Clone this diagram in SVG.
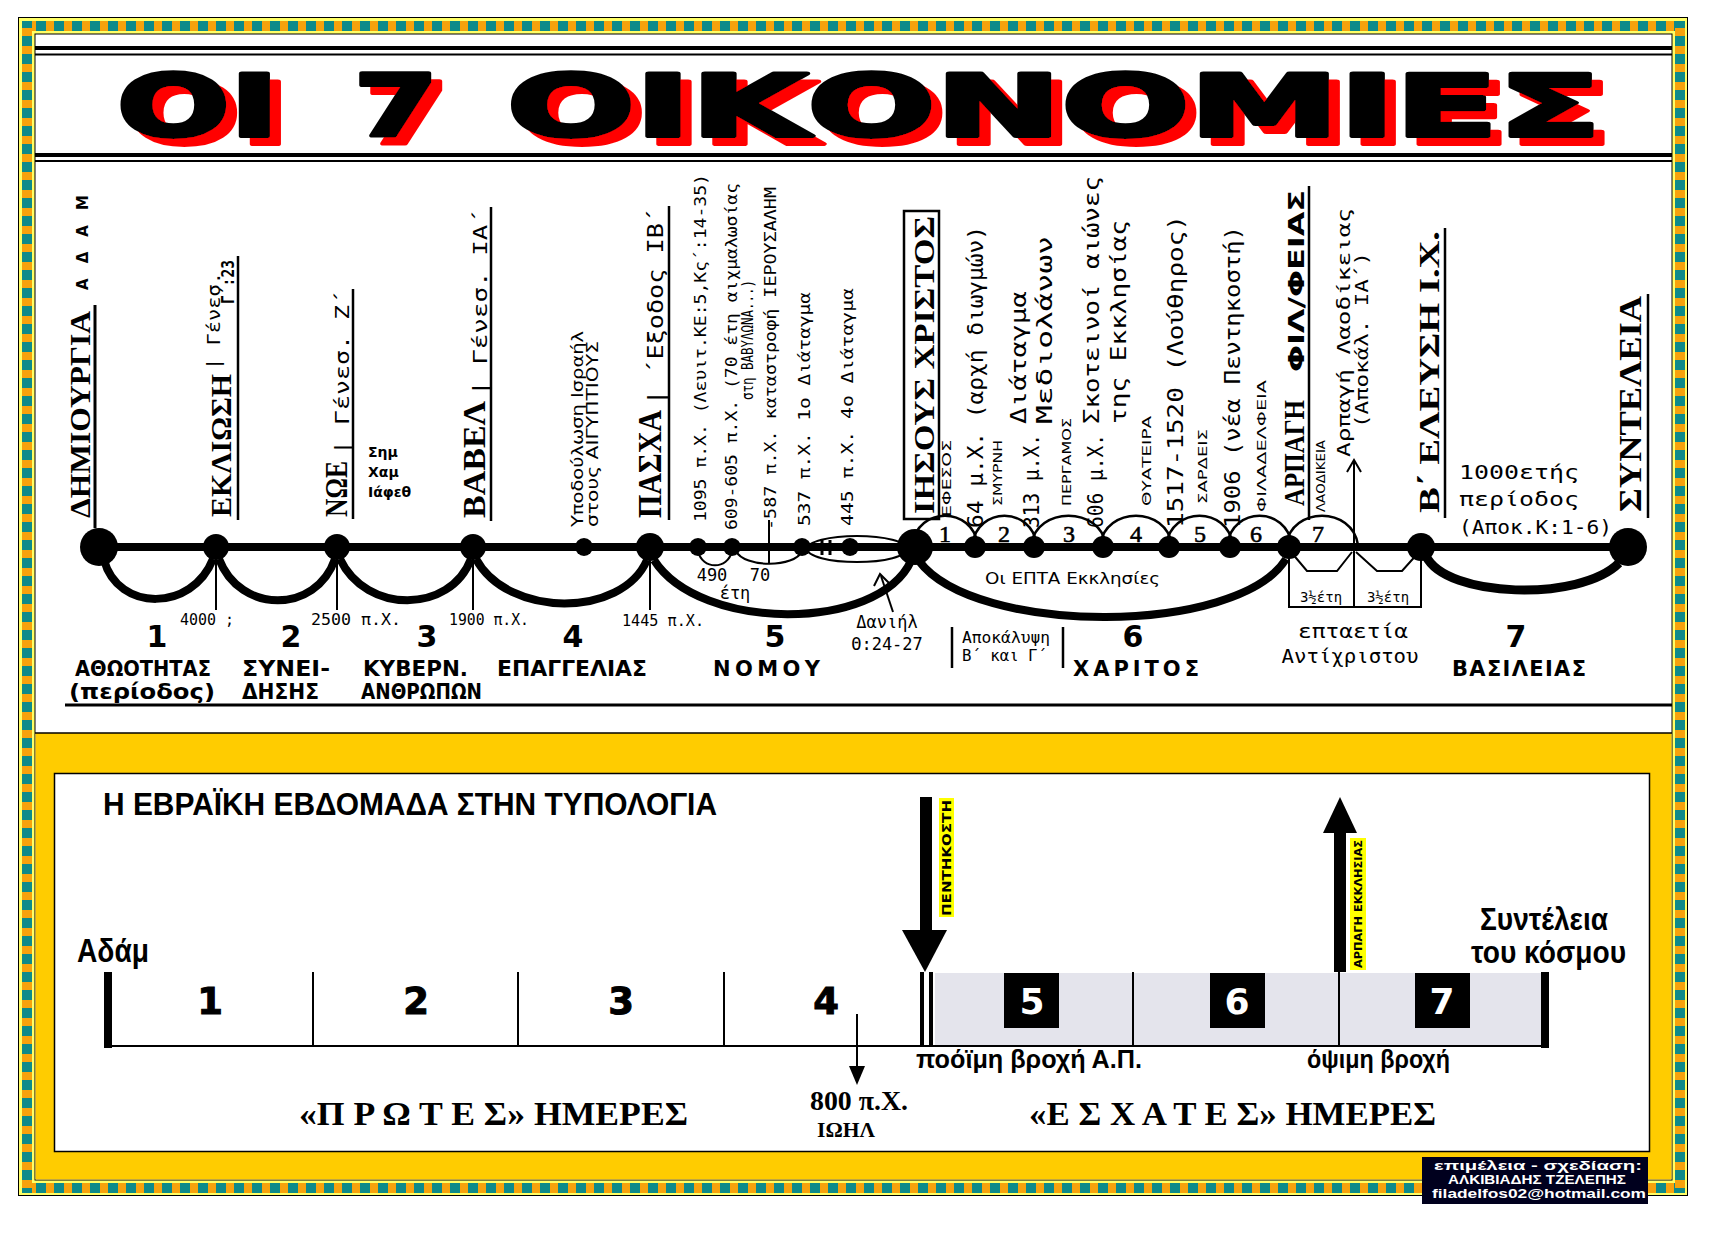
<svg xmlns="http://www.w3.org/2000/svg" width="1725" height="1233" viewBox="0 0 1725 1233">
<defs>
<pattern id="hp" x="0" y="0" width="18" height="20" patternUnits="userSpaceOnUse"><rect width="18" height="20" fill="#f7a20c"/><rect width="10" height="20" fill="#0d8a8a"/></pattern>
<pattern id="vp" x="0" y="0" width="20" height="18" patternUnits="userSpaceOnUse"><rect width="20" height="18" fill="#f7a20c"/><rect width="20" height="10" fill="#0d8a8a"/></pattern>
<filter id="sh" x="-5%" y="-10%" width="115%" height="135%">
<feOffset in="SourceAlpha" dx="11" dy="8" result="o"/>
<feFlood flood-color="#ff0000"/>
<feComposite in2="o" operator="in" result="r"/>
<feMerge><feMergeNode in="r"/><feMergeNode in="SourceGraphic"/></feMerge>
</filter>
</defs>
<style>
.ser{font-family:"Liberation Serif","Times New Roman",serif;font-weight:bold}
.mono{font-family:"DejaVu Sans Mono",monospace}
.sans{font-family:"DejaVu Sans",sans-serif}
.sb{font-family:"DejaVu Sans",sans-serif;font-weight:bold}
.lab{font-family:"DejaVu Sans",sans-serif;font-weight:bold;font-size:21px}
.nar{font-family:"Liberation Sans",Arial,sans-serif;font-weight:bold}
.tt{font-family:"DejaVu Sans",sans-serif;font-weight:bold;font-size:85px;stroke:#000;stroke-width:4;stroke-linejoin:round}
.ln{stroke:#000;fill:none}
.dot{fill:#000}
</style>
<rect width="1725" height="1233" fill="#fff"/>
<g id="border">
<rect x="18.5" y="17.5" width="1669" height="1178" fill="#ffff66" stroke="#000" stroke-width="1"/>
<rect x="22" y="21" width="1662" height="10" fill="url(#hp)"/>
<rect x="22" y="1183" width="1662" height="10" fill="url(#hp)"/>
<rect x="22" y="21" width="10" height="1172" fill="url(#vp)"/>
<rect x="1675" y="21" width="10" height="1172" fill="url(#vp)"/>
<rect x="35" y="34" width="1637" height="1146" fill="#fff" stroke="#000" stroke-width="1"/>
<rect x="35.5" y="733" width="1636" height="446.5" fill="#ffcc00"/>
<line x1="35" y1="733" x2="1672" y2="733" stroke="#000" stroke-width="1.5"/>
</g>
<g id="header">
<line x1="35" y1="48" x2="1672" y2="48" stroke="#000" stroke-width="4"/>
<line x1="35" y1="54.5" x2="1672" y2="54.5" stroke="#000" stroke-width="2"/>
<line x1="35" y1="155" x2="1672" y2="155" stroke="#000" stroke-width="4"/>
<line x1="35" y1="161" x2="1672" y2="161" stroke="#000" stroke-width="2"/>
<g filter="url(#sh)">
<text class="tt" x="117" y="136" fill="#000" textLength="162" lengthAdjust="spacingAndGlyphs">ΟΙ</text>
<text class="tt" x="354" y="136" fill="#000" textLength="84" lengthAdjust="spacingAndGlyphs">7</text>
<text class="tt" x="507" y="136" fill="#000" textLength="1094" lengthAdjust="spacingAndGlyphs">ΟΙΚΟΝΟΜΙΕΣ</text>
</g>
</g>
<g id="connectors" class="ln">
<line x1="99" y1="547" x2="1628" y2="547" stroke-width="8"/>
<path d="M104 560 C118 612 192 612 213 559" stroke-width="8"/>
<path d="M219 559 C240 614 316 614 335 559" stroke-width="8"/>
<path d="M340 559 C366 614 450 614 471 559" stroke-width="8"/>
<path d="M476 559 C508 618 622 618 647 560" stroke-width="8"/>
<path d="M654 560 C700 632 878 632 911 561" stroke-width="8"/>
<path d="M919 561 C975 636 1238 636 1286 559" stroke-width="8"/>
<path d="M1426 556 C1446 598 1580 602 1619 563" stroke-width="9"/>
<line x1="216" y1="555" x2="216" y2="610" stroke-width="2"/>
<line x1="337" y1="555" x2="337" y2="610" stroke-width="2"/>
<line x1="473" y1="555" x2="473" y2="610" stroke-width="2"/>
<line x1="650" y1="555" x2="650" y2="610" stroke-width="2"/>
<line x1="769" y1="520" x2="769" y2="563" stroke-width="2"/>
<line x1="822" y1="540" x2="822" y2="555" stroke-width="3"/>
<line x1="830" y1="540" x2="830" y2="555" stroke-width="3"/>
<ellipse cx="857" cy="549" rx="50" ry="13" stroke-width="2"/>
<path d="M698 551 C702 570 728 570 732 551" stroke-width="2"/>
<path d="M736 551 C744 568 795 568 802 551" stroke-width="2"/>
<line x1="893" y1="612" x2="881" y2="576" stroke-width="2"/>
<polyline points="874,586 880,574 889,583" stroke-width="2"/>
<path d="M912 545 C918 506 972 506 978 545" stroke-width="2.5"/>
<path d="M972 545 C978 506 1031 506 1037 545" stroke-width="2.5"/>
<path d="M1031 545 C1037 506 1100 506 1106 545" stroke-width="2.5"/>
<path d="M1100 545 C1106 506 1166 506 1172 545" stroke-width="2.5"/>
<path d="M1166 545 C1172 506 1227 506 1233 545" stroke-width="2.5"/>
<path d="M1227 545 C1233 506 1286 506 1292 545" stroke-width="2.5"/>
<path d="M1286 545 C1292 506 1352 506 1358 545" stroke-width="2.5"/>
<path d="M1289 555 V607 H1421 V560 M1354 547 V607" stroke-width="2"/>
<polyline points="1291,552 1307,571 1337,571 1352,552" stroke-width="2"/>
<polyline points="1356,552 1377,571 1402,571 1419,552" stroke-width="2"/>
<line x1="1354" y1="547" x2="1354" y2="462" stroke-width="2"/>
<polyline points="1347,472 1354,460 1361,472" stroke-width="2"/>
<line x1="65" y1="705" x2="1672" y2="705" stroke-width="3"/>
</g>
<g id="n-adam">
<circle class="dot" cx="99" cy="547" r="19"/>
<text class="ser" font-size="29" transform="translate(90 518) rotate(-90)" textLength="207" lengthAdjust="spacingAndGlyphs">ΔΗΜΙΟΥΡΓΙΑ</text>
<line x1="95" y1="305" x2="95" y2="528" stroke="#000" stroke-width="3"/>
<text class="sb" font-size="15" transform="translate(88 290) rotate(-90)" textLength="95" lengthAdjust="spacing">ΑΔΑΜ</text>
<text class="mono" font-size="16" x="180" y="625" textLength="54" lengthAdjust="spacingAndGlyphs">4000 ;</text>
<text class="sb" font-size="30" x="157" y="647" text-anchor="middle">1</text>
<text class="lab" x="75" y="676" textLength="136" lengthAdjust="spacingAndGlyphs">ΑΘΩΟΤΗΤΑΣ</text>
<text class="lab" font-weight="normal" x="69" y="699" textLength="146" lengthAdjust="spacingAndGlyphs">(περίοδος)</text>
</g>
<g id="n-eklipsi">
<circle class="dot" cx="216" cy="547" r="13"/>
<text class="ser" font-size="29" transform="translate(231 517) rotate(-90)" textLength="143" lengthAdjust="spacingAndGlyphs">ΕΚΛΙΩΣΗ</text>
<text class="mono" font-size="17" transform="translate(220 370) rotate(-90)" textLength="98" lengthAdjust="spacingAndGlyphs">| Γένεσ.</text>
<text class="mono" font-size="17" font-weight="bold" transform="translate(234 260) rotate(-90)" text-anchor="end" textLength="44" lengthAdjust="spacingAndGlyphs">Γ΄:23</text>
<line x1="238" y1="256" x2="238" y2="520" stroke="#000" stroke-width="2.5"/>
<text class="mono" font-size="16" x="311" y="625" textLength="90" lengthAdjust="spacingAndGlyphs">2500 π.Χ.</text>
<text class="sb" font-size="30" x="291" y="647" text-anchor="middle">2</text>
<text class="lab" x="242" y="676" textLength="88" lengthAdjust="spacingAndGlyphs">ΣΥΝΕΙ-</text>
<text class="lab" x="242" y="699" textLength="77" lengthAdjust="spacingAndGlyphs">ΔΗΣΗΣ</text>
</g>
<g id="n-noe">
<circle class="dot" cx="337" cy="547" r="13"/>
<text class="ser" font-size="32" transform="translate(347 517) rotate(-90)" textLength="56" lengthAdjust="spacingAndGlyphs">ΝΩΕ</text>
<text class="mono" font-size="19" transform="translate(349 455) rotate(-90)" textLength="165" lengthAdjust="spacingAndGlyphs">| Γένεσ. Ζ΄</text>
<line x1="353" y1="289" x2="353" y2="519" stroke="#000" stroke-width="2.5"/>
<text class="sb" font-size="14" x="368" y="457">Σημ</text>
<text class="sb" font-size="14" x="368" y="477">Χαμ</text>
<text class="sb" font-size="14" x="368" y="497">Ιάφεθ</text>
<text class="mono" font-size="16" x="449" y="625" textLength="80" lengthAdjust="spacingAndGlyphs">1900 π.Χ.</text>
<text class="sb" font-size="30" x="427" y="647" text-anchor="middle">3</text>
<text class="lab" x="363" y="676" textLength="105" lengthAdjust="spacingAndGlyphs">ΚΥΒΕΡΝ.</text>
<text class="lab" x="361" y="699" textLength="121" lengthAdjust="spacingAndGlyphs">ΑΝΘΡΩΠΩΝ</text>
</g>
<g id="n-babel">
<circle class="dot" cx="473" cy="547" r="13"/>
<text class="ser" font-size="32" transform="translate(485 518) rotate(-90)" textLength="117" lengthAdjust="spacingAndGlyphs">ΒΑΒΕΛ</text>
<text class="mono" font-size="20" transform="translate(487 396) rotate(-90)" textLength="187" lengthAdjust="spacingAndGlyphs">| Γένεσ. ΙΑ΄</text>
<line x1="491" y1="207" x2="491" y2="521" stroke="#000" stroke-width="2.5"/>
<circle class="dot" cx="584" cy="547" r="9"/>
<text class="sans" font-size="15" transform="translate(583 527) rotate(-90)" textLength="196" lengthAdjust="spacingAndGlyphs">Υποδούλωση Ισραήλ</text>
<text class="sans" font-size="15" transform="translate(598 527) rotate(-90)" textLength="186" lengthAdjust="spacingAndGlyphs">στους ΑΙΓΥΠΤΙΟΥΣ</text>
<text class="sb" font-size="30" x="573" y="647" text-anchor="middle">4</text>
<text class="lab" x="497" y="676" textLength="150" lengthAdjust="spacingAndGlyphs">ΕΠΑΓΓΕΛΙΑΣ</text>
</g>
<g id="n-pasxa">
<circle class="dot" cx="650" cy="547" r="14"/>
<text class="ser" font-size="33" transform="translate(661 518) rotate(-90)" textLength="108" lengthAdjust="spacingAndGlyphs">ΠΑΣΧΑ</text>
<text class="mono" font-size="21" transform="translate(663 405) rotate(-90)" textLength="197" lengthAdjust="spacingAndGlyphs">| ΄Εξοδος ΙΒ΄</text>
<line x1="669" y1="206" x2="669" y2="520" stroke="#000" stroke-width="2.5"/>
<text class="mono" font-size="16" x="622" y="626" textLength="82" lengthAdjust="spacingAndGlyphs">1445 π.Χ.</text>
</g>
<g id="n-nomos">
<circle class="dot" cx="698" cy="547" r="9"/>
<circle class="dot" cx="732" cy="547" r="9"/>
<circle class="dot" cx="802" cy="547" r="9"/>
<circle class="dot" cx="850" cy="547" r="9"/>
<text class="mono" font-size="16" transform="translate(706 522) rotate(-90)" textLength="348" lengthAdjust="spacingAndGlyphs">1095 π.Χ.  (Λευιτ.ΚΕ:5,Κς΄:14-35)</text>
<text class="mono" font-size="16" transform="translate(737 530) rotate(-90)" textLength="347" lengthAdjust="spacingAndGlyphs">609-605 π.Χ.  (70 έτη αιχμαλωσίας</text>
<text class="mono" font-size="16" transform="translate(753 400) rotate(-90)" textLength="120" lengthAdjust="spacingAndGlyphs">στη ΒΑΒΥΛΩΝΑ...)</text>
<text class="mono" font-size="16" transform="translate(776 530) rotate(-90)" textLength="343" lengthAdjust="spacingAndGlyphs">-587 π.Χ. καταστροφή ΙΕΡΟΥΣΑΛΗΜ</text>
<text class="mono" font-size="16" transform="translate(810 526) rotate(-90)" textLength="234" lengthAdjust="spacingAndGlyphs">537 π.Χ.   1ο Διάταγμα</text>
<text class="mono" font-size="16" transform="translate(853 526) rotate(-90)" textLength="238" lengthAdjust="spacingAndGlyphs">445 π.Χ.   4ο Διάταγμα</text>
<text class="mono" font-size="17" x="712" y="581" text-anchor="middle">490</text>
<text class="mono" font-size="17" x="760" y="581" text-anchor="middle">70</text>
<text class="mono" font-size="17" x="735" y="599" text-anchor="middle">έτη</text>
<text class="mono" font-size="17" x="887" y="628" text-anchor="middle">Δανιήλ</text>
<text class="mono" font-size="17" x="887" y="650" text-anchor="middle">Θ:24-27</text>
<text class="sb" font-size="30" x="775" y="647" text-anchor="middle">5</text>
<text class="lab" x="713" y="676" textLength="107" lengthAdjust="spacing">ΝΟΜΟΥ</text>
</g>
<g id="n-christos">
<circle class="dot" cx="915" cy="547" r="18"/>
<rect x="904" y="211" width="35" height="308" fill="none" stroke="#000" stroke-width="2.5"/>
<text class="ser" font-size="30" transform="translate(934 514) rotate(-90)" textLength="298" lengthAdjust="spacingAndGlyphs">ΙΗΣΟΥΣ ΧΡΙΣΤΟΣ</text>
<line x1="952" y1="627" x2="952" y2="668" stroke="#000" stroke-width="2.5"/>
<line x1="1063" y1="627" x2="1063" y2="668" stroke="#000" stroke-width="2.5"/>
<text class="mono" font-size="15" x="962" y="643" textLength="88" lengthAdjust="spacingAndGlyphs">Αποκάλυψη</text>
<text class="mono" font-size="15" x="962" y="661" textLength="85" lengthAdjust="spacingAndGlyphs">Β΄ και Γ΄</text>
<text class="sb" font-size="30" x="1133" y="647" text-anchor="middle">6</text>
<text class="lab" x="1073" y="676" textLength="126" lengthAdjust="spacing">ΧΑΡΙΤΟΣ</text>
<text class="sans" font-size="16" x="985" y="584" textLength="175" lengthAdjust="spacingAndGlyphs">Οι ΕΠΤΑ Εκκλησίες</text>
</g>
<g id="n-churches">
<circle class="dot" cx="975" cy="547" r="11"/>
<circle class="dot" cx="1034" cy="547" r="11"/>
<circle class="dot" cx="1103" cy="547" r="11"/>
<circle class="dot" cx="1169" cy="547" r="11"/>
<circle class="dot" cx="1230" cy="547" r="11"/>
<g font-family="Liberation Serif, serif" font-size="24" text-anchor="middle" stroke="#000" stroke-width="0.6">
<text x="945" y="542">1</text>
<text x="1004" y="542">2</text>
<text x="1069" y="542">3</text>
<text x="1136" y="542">4</text>
<text x="1200" y="542">5</text>
<text x="1256" y="542">6</text>
<text x="1318" y="542">7</text>
</g>
<text class="sans" font-size="13" transform="translate(951 517) rotate(-90)" textLength="77" lengthAdjust="spacingAndGlyphs">ΕΦΕΣΟΣ</text>
<text class="mono" font-size="22" transform="translate(983 528) rotate(-90)" textLength="302" lengthAdjust="spacingAndGlyphs">64 μ.Χ. (αρχή διωγμών)</text>
<text class="sans" font-size="13" transform="translate(1002 506) rotate(-90)" textLength="66" lengthAdjust="spacingAndGlyphs">ΣΜΥΡΝΗ</text>
<text class="mono" font-size="22" transform="translate(1039 528) rotate(-90)" textLength="94" lengthAdjust="spacingAndGlyphs">313 μ.Χ.</text>
<text class="mono" font-size="22" transform="translate(1026 424) rotate(-90)" textLength="133" lengthAdjust="spacingAndGlyphs">Διάταγμα</text>
<text class="mono" font-size="22" transform="translate(1052 424) rotate(-90)" textLength="188" lengthAdjust="spacingAndGlyphs">Μεδιολάνων</text>
<text class="sans" font-size="13" transform="translate(1071 506) rotate(-90)" textLength="88" lengthAdjust="spacingAndGlyphs">ΠΕΡΓΑΜΟΣ</text>
<text class="mono" font-size="22" transform="translate(1103 528) rotate(-90)" textLength="94" lengthAdjust="spacingAndGlyphs">606 μ.Χ.</text>
<text class="mono" font-size="22" transform="translate(1099 424) rotate(-90)" textLength="248" lengthAdjust="spacingAndGlyphs">Σκοτεινοί αιώνες</text>
<text class="mono" font-size="22" transform="translate(1126 424) rotate(-90)" textLength="204" lengthAdjust="spacingAndGlyphs">της Εκκλησίας</text>
<text class="sans" font-size="13" transform="translate(1151 506) rotate(-90)" textLength="90" lengthAdjust="spacingAndGlyphs">ΘΥΑΤΕΙΡΑ</text>
<text class="mono" font-size="22" transform="translate(1183 528) rotate(-90)" textLength="313" lengthAdjust="spacingAndGlyphs">1517-1520 (Λούθηρος)</text>
<text class="sans" font-size="13" transform="translate(1207 504) rotate(-90)" textLength="75" lengthAdjust="spacingAndGlyphs">ΣΑΡΔΕΙΣ</text>
<text class="mono" font-size="22" transform="translate(1240 528) rotate(-90)" textLength="302" lengthAdjust="spacingAndGlyphs">1906 (νέα Πεντηκοστή)</text>
<text class="sans" font-size="13" transform="translate(1266 512) rotate(-90)" textLength="132" lengthAdjust="spacingAndGlyphs">ΦΙΛΑΔΕΛΦΕΙΑ</text>
</g>
<g id="n-arpagi">
<circle class="dot" cx="1289" cy="547" r="12"/>
<text class="ser" font-size="30" transform="translate(1304 506) rotate(-90)" textLength="106" lengthAdjust="spacingAndGlyphs">ΑΡΠΑΓΗ</text>
<text class="sb" font-size="22" transform="translate(1304 372) rotate(-90)" textLength="182" lengthAdjust="spacingAndGlyphs">ΦΙΛ/ΦΕΙΑΣ</text>
<line x1="1309" y1="186" x2="1309" y2="520" stroke="#000" stroke-width="2.5"/>
<text class="sans" font-size="13" transform="translate(1325 512) rotate(-90)" textLength="72" lengthAdjust="spacingAndGlyphs">ΛΑΟΔΙΚΕΙΑ</text>
<text class="mono" font-size="18" transform="translate(1350 457) rotate(-90)" textLength="249" lengthAdjust="spacingAndGlyphs">Αρπαγή Λαοδίκειας</text>
<text class="mono" font-size="18" transform="translate(1368 428) rotate(-90)" textLength="176" lengthAdjust="spacingAndGlyphs">(Αποκάλ. ΙΑ΄)</text>
<text class="mono" font-size="14" x="1321" y="602" text-anchor="middle">3½έτη</text>
<text class="mono" font-size="14" x="1388" y="602" text-anchor="middle">3½έτη</text>
<text class="mono" font-size="20" x="1353" y="638" text-anchor="middle" textLength="110" lengthAdjust="spacingAndGlyphs">επταετία</text>
<text class="mono" font-size="20" x="1350" y="663" text-anchor="middle" textLength="137" lengthAdjust="spacingAndGlyphs">Αντίχριστου</text>
</g>
<g id="n-eleusi">
<circle class="dot" cx="1421" cy="547" r="14"/>
<text class="ser" font-size="29" transform="translate(1439 513) rotate(-90)" textLength="282" lengthAdjust="spacingAndGlyphs">Β΄ ΕΛΕΥΣΗ Ι.Χ.</text>
<text class="mono" font-size="20" x="1459" y="479" textLength="120" lengthAdjust="spacingAndGlyphs">1000ετής</text>
<line x1="1445" y1="228" x2="1445" y2="518" stroke="#000" stroke-width="2.5"/>
<text class="mono" font-size="20" x="1459" y="506" textLength="120" lengthAdjust="spacingAndGlyphs">περίοδος</text>
<text class="mono" font-size="20" x="1459" y="534" textLength="153" lengthAdjust="spacingAndGlyphs">(Αποκ.Κ:1-6)</text>
<text class="sb" font-size="30" x="1516" y="647" text-anchor="middle">7</text>
<text class="lab" x="1452" y="676" textLength="134" lengthAdjust="spacing">ΒΑΣΙΛΕΙΑΣ</text>
</g>
<g id="n-synteleia">
<circle class="dot" cx="1628" cy="547" r="19"/>
<text class="ser" font-size="32" transform="translate(1641 512) rotate(-90)" textLength="216" lengthAdjust="spacingAndGlyphs">ΣΥΝΤΕΛΕΙΑ</text>
<line x1="1648" y1="294" x2="1648" y2="518" stroke="#000" stroke-width="2.5"/>
</g>
<g id="week">
<rect x="54.5" y="773.5" width="1595" height="378" fill="#fff" stroke="#000" stroke-width="1.5"/>
<text class="nar" font-size="32" x="103" y="815" textLength="614" lengthAdjust="spacingAndGlyphs">Η ΕΒΡΑΪΚΗ ΕΒΔΟΜΑΔΑ ΣΤΗΝ ΤΥΠΟΛΟΓΙΑ</text>
<text class="nar" font-size="33" x="77" y="962" textLength="72" lengthAdjust="spacingAndGlyphs">Αδάμ</text>
<rect x="935" y="973" width="607" height="73" fill="#e4e4ec"/>
<rect x="104" y="972" width="8" height="76" fill="#000"/>
<rect x="1541" y="972" width="8" height="76" fill="#000"/>
<line x1="108" y1="1046" x2="1545" y2="1046" stroke="#000" stroke-width="2"/>
<g stroke="#000" stroke-width="2">
<line x1="313" y1="972" x2="313" y2="1046"/>
<line x1="518" y1="972" x2="518" y2="1046"/>
<line x1="724" y1="972" x2="724" y2="1046"/>
<line x1="1133" y1="972" x2="1133" y2="1046"/>
<line x1="1339" y1="972" x2="1339" y2="1046"/>
</g>
<rect x="920" y="972" width="4" height="75" fill="#000"/>
<rect x="929" y="972" width="4" height="75" fill="#000"/>
<g class="sb" font-size="37" text-anchor="middle" stroke="#000" stroke-width="1">
<text x="210" y="1014">1</text>
<text x="416" y="1014">2</text>
<text x="621" y="1014">3</text>
<text x="826" y="1014">4</text>
</g>
<rect x="1004" y="973" width="55" height="55" fill="#000"/>
<rect x="1210" y="973" width="55" height="55" fill="#000"/>
<rect x="1415" y="973" width="55" height="55" fill="#000"/>
<g class="sb" font-size="36" text-anchor="middle" fill="#fff">
<text x="1032" y="1014">5</text>
<text x="1237" y="1014">6</text>
<text x="1442" y="1014">7</text>
</g>
<rect x="920" y="797" width="12" height="135" fill="#000"/>
<polygon points="902,930 947,930 925,972" fill="#000"/>
<rect x="939" y="798" width="15" height="119" fill="#ffff00"/>
<text class="sb" font-size="12" transform="translate(951 916) rotate(-90)" textLength="116" lengthAdjust="spacingAndGlyphs">ΠΕΝΤΗΚΟΣΤΗ</text>
<rect x="1334" y="830" width="12" height="142" fill="#000"/>
<polygon points="1323,833 1357,833 1340,797" fill="#000"/>
<rect x="1350" y="838" width="16" height="132" fill="#ffff00"/>
<text class="sb" font-size="11" transform="translate(1362 968) rotate(-90)" textLength="128" lengthAdjust="spacingAndGlyphs">ΑΡΠΑΓΗ ΕΚΚΛΗΣΙΑΣ</text>
<text class="nar" font-size="32" x="1480" y="930" textLength="128" lengthAdjust="spacingAndGlyphs">Συντέλεια</text>
<text class="nar" font-size="32" x="1471" y="963" textLength="155" lengthAdjust="spacingAndGlyphs">του κόσμου</text>
<text class="nar" font-size="25" x="916" y="1068" textLength="226" lengthAdjust="spacingAndGlyphs">ποόϊμη βροχή Α.Π.</text>
<text class="nar" font-size="25" x="1307" y="1068" textLength="143" lengthAdjust="spacingAndGlyphs">όψιμη βροχή</text>
<line x1="857" y1="1014" x2="857" y2="1070" stroke="#000" stroke-width="2"/>
<polygon points="849,1066 865,1066 857,1085" fill="#000"/>
<text class="ser" font-size="28" x="810" y="1110" textLength="98" lengthAdjust="spacingAndGlyphs">800 π.Χ.</text>
<text class="ser" font-size="20" x="817" y="1137" textLength="58" lengthAdjust="spacingAndGlyphs">ΙΩΗΛ</text>
<text class="ser" font-size="33" x="299" y="1125" textLength="389" lengthAdjust="spacingAndGlyphs">«Π Ρ Ω Τ Ε Σ»   ΗΜΕΡΕΣ</text>
<text class="ser" font-size="33" x="1029" y="1125" textLength="407" lengthAdjust="spacingAndGlyphs">«Ε Σ Χ Α Τ Ε Σ» ΗΜΕΡΕΣ</text>
</g>
<g id="credit">
<rect x="1422" y="1157" width="226" height="47" fill="#00001e"/>
<g class="nar" fill="#fff" text-anchor="middle" font-size="12">
<text x="1538" y="1170" textLength="208" lengthAdjust="spacingAndGlyphs">επιμέλεια - σχεδίαση:</text>
<text x="1537" y="1184" textLength="178" lengthAdjust="spacingAndGlyphs">ΑΛΚΙΒΙΑΔΗΣ ΤΖΕΛΕΠΗΣ</text>
<text x="1539" y="1198" textLength="214" lengthAdjust="spacingAndGlyphs">filadelfos02@hotmail.com</text>
</g>
</g>
</svg>
